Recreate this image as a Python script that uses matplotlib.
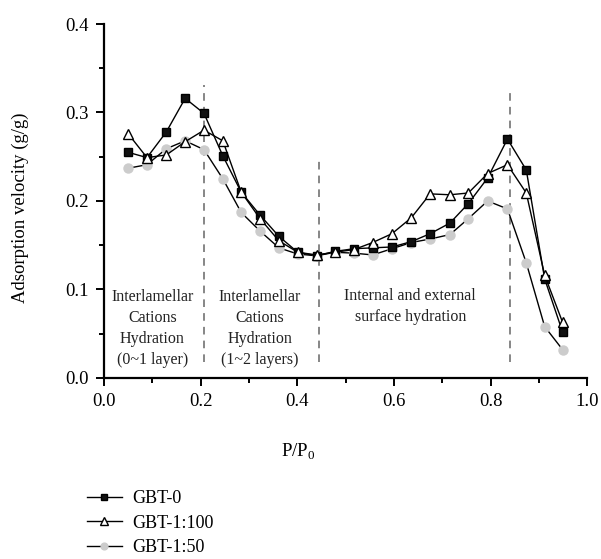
import numpy as np
import matplotlib
matplotlib.use("Agg")
import matplotlib.pyplot as plt
from matplotlib.ticker import MultipleLocator

plt.rcParams["font.family"] = ["Liberation Serif", "DejaVu Serif"]
plt.rcParams["mathtext.fontset"] = "custom"
plt.rcParams["mathtext.rm"] = "Liberation Serif"

# relative pressure
p_p0 = [0.050, 0.089, 0.129, 0.168, 0.207, 0.246, 0.284, 0.323, 0.362, 0.401,
        0.440, 0.478, 0.517, 0.556, 0.596, 0.636, 0.675, 0.716, 0.754, 0.794,
        0.835, 0.874, 0.912, 0.949]

# adsorption velocity (g/g)
gbt_0 = [0.255, 0.249, 0.278, 0.316, 0.299, 0.251, 0.210, 0.184, 0.160, 0.142,
         0.138, 0.143, 0.146, 0.147, 0.148, 0.154, 0.163, 0.175, 0.197, 0.226,
         0.270, 0.235, 0.112, 0.052]
gbt_1_100 = [0.276, 0.249, 0.252, 0.267, 0.280, 0.268, 0.210, 0.180, 0.155, 0.142,
             0.139, 0.142, 0.145, 0.153, 0.163, 0.181, 0.208, 0.207, 0.209, 0.231,
             0.241, 0.209, 0.116, 0.063]
gbt_1_50 = [0.237, 0.241, 0.259, 0.268, 0.258, 0.225, 0.187, 0.166, 0.147, 0.140,
            0.138, 0.142, 0.141, 0.139, 0.146, 0.153, 0.157, 0.162, 0.180, 0.200,
            0.191, 0.130, 0.058, 0.032]

# region boundaries: x, top of dashed line
bounds_x = [0.207, 0.444, 0.841]
bounds_top = [0.331, 0.245, 0.322]

region_labels = ["Interlamellar\nCations\nHydration\n(0~1 layer)",
                 "Interlamellar\nCations\nHydration\n(1~2 layers)",
                 "Internal and external\nsurface hydration"]
region_x = [0.100, 0.323, 0.634]
region_y = [0.056, 0.056, 0.081]

fig = plt.figure(figsize=(6.01, 5.59), dpi=100)
ax = fig.add_axes([0.173, 0.324, 0.804, 0.633])

ax.plot(p_p0, gbt_0, color="black", lw=1.0, marker="s", ms=5.5,
        mfc="#111111", mec="black", label="GBT-0", zorder=3)
ax.plot(p_p0, gbt_1_100, color="black", lw=1.0, marker="^", ms=7,
        mfc="white", mec="black", mew=1.0, label="GBT-1:100", zorder=4)
ax.plot(p_p0, gbt_1_50, color="black", lw=1.0, marker="o", ms=6.5,
        mfc="#cccccc", mec="#cccccc", label="GBT-1:50", zorder=2)

for bx, bt in zip(bounds_x, bounds_top):
    ax.plot([bx, bx], [0.018, bt], color="#666666", lw=1.1,
            ls=(0, (5, 4)), zorder=1)

for lab, tx, ty in zip(region_labels, region_x, region_y):
    ax.text(tx, ty, lab, ha="center", va="center", fontsize=11.5,
            linespacing=1.4, color="#222222")

ax.set_xlim(0, 1.0)
ax.set_ylim(0, 0.4)
ax.xaxis.set_minor_locator(MultipleLocator(0.1))
ax.yaxis.set_minor_locator(MultipleLocator(0.05))
ax.set_xticks([0, 0.2, 0.4, 0.6, 0.8, 1.0])
ax.set_xticklabels(["0.0", "0.2", "0.4", "0.6", "0.8", "1.0"])
ax.set_yticks([0, 0.1, 0.2, 0.3, 0.4])
ax.set_yticklabels(["0.0", "0.1", "0.2", "0.3", "0.4"])

for s in ["top", "right"]:
    ax.spines[s].set_visible(False)
for s in ["left", "bottom"]:
    ax.spines[s].set_linewidth(1.6)
ax.tick_params(which="major", direction="out", length=6, width=1.4,
               labelsize=13.5, pad=5)
ax.tick_params(which="minor", direction="out", length=3.5, width=1.4)

fig.text(20 / 601, 1 - 208 / 559, "Adsorption velocity (g/g)", rotation=90,
         ha="center", va="center", fontsize=13.5)
fig.text(298 / 601, 1 - 452 / 559, "P/P$_0$", ha="center", va="center",
         fontsize=13.5)

ax.legend(loc="upper left", bbox_to_anchor=(80 / 601, 1 - 483 / 559),
          bbox_transform=fig.transFigure, frameon=False, fontsize=13,
          handlelength=1.9, handletextpad=0.6, labelspacing=0.42,
          markerscale=0.75, borderaxespad=0)

plt.savefig("out.png", dpi=100)
